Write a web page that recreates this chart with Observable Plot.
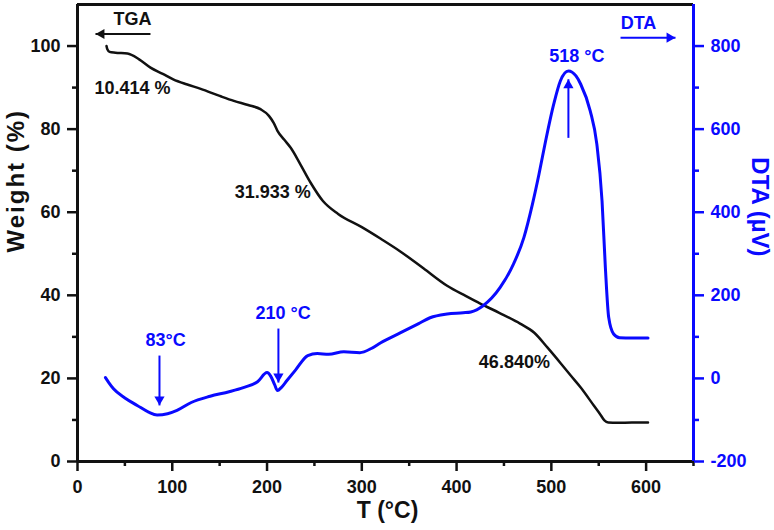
<!DOCTYPE html>
<html><head><meta charset="utf-8">
<script src="https://cdn.jsdelivr.net/npm/d3@7"></script>
<script src="https://cdn.jsdelivr.net/npm/@observablehq/plot@0.6"></script>
<style>body{margin:0;background:#fff} #chart svg{display:block}</style>
</head><body><div id="chart"></div>
<script>
// TGA curve (T °C, weight %)
const tgaT = [30.6, 31.5, 33.8, 40, 52.7, 65, 77, 90, 101, 115, 130, 150, 165, 180, 193, 202, 207, 211, 218, 225, 235, 246, 259, 275, 300, 320, 341, 365, 390, 410, 425, 445, 467, 482, 496, 510, 520, 531, 545, 552, 556, 560, 570, 585, 602];
const tgaW = [100, 99.2, 98.6, 98.4, 98.2, 96.8, 94.8, 93.3, 92, 90.8, 89.7, 88, 86.8, 85.8, 84.8, 83.2, 81.5, 79.6, 77.5, 75.5, 71.6, 67.1, 62.7, 59.6, 56.4, 53.6, 50.5, 46.5, 42.3, 39.8, 38, 35.8, 33.2, 31, 27.4, 23.6, 20.8, 17.8, 13.4, 11.2, 9.9, 9.4, 9.3, 9.4, 9.4];
// DTA curve (T °C, µV)
const dtaT = [29.5, 33, 38, 50, 63, 75, 84, 95, 105, 120, 140, 160, 175, 190, 200, 204, 208, 211, 215, 221, 230, 243, 253, 265, 281, 298, 310, 320, 341, 360, 372, 390, 407, 415, 428, 446, 460, 471, 480, 487, 494, 502.5, 509.5, 518, 526, 531, 541, 548, 553.5, 557, 560.5, 565.7, 572, 585, 602];
const dtaV = [2, -10, -25, -47, -65, -81, -88, -85, -77, -58, -43, -32, -22, -8, 14, 5, -15, -29, -22, -5, 20, 55, 60, 58, 64, 62, 72, 86, 110, 132, 146, 155, 158, 160, 175, 219, 275, 339, 419, 492, 572, 660, 716, 740, 728, 708, 644, 564, 427, 267, 147, 107, 98, 97, 97];

// ticks
const xTicks = [0, 100, 200, 300, 400, 500, 600];
const xMinor = [50, 150, 250, 350, 450, 550, 650];
const yTicks = [0, 20, 40, 60, 80, 100];
const yMinor = [10, 30, 50, 70, 90];
const dtaTicks = [-200, 0, 200, 400, 600, 800];
const dtaMinor = [-100, 100, 300, 500, 700];

// annotations
const annText = ["TGA", "DTA", "10.414 %", "31.933 %", "46.840%", "83°C", "210 °C", "518 °C"];
const annX = [58, 592, 58, 206, 461, 93, 217, 527];
const annY = [106.5, 105.5, 89.9, 64.7, 23.8, 29.1, 35.6, 97.6];
const annBlue = [false, true, false, false, false, true, true, true];
// arrows: tail (x1,y1) -> tip (x2,y2), in T and weight units
const arrX1 = [77, 573, 86.5, 212, 518];
const arrY1 = [102.9, 102, 25.5, 32, 77.9];
const arrX2 = [19, 631, 86.5, 212, 518];
const arrY2 = [102.9, 102, 13.5, 19, 92];
const arrBlue = [false, true, true, true, true];

const blue = "#0a0aff";
const ink = "#111";
const toW = d => (d + 200) / 10; // DTA axis (-200..900) onto weight axis (0..110)

const tga = tgaT.map((t, i) => ({t, w: tgaW[i]}));
const dta = dtaT.map((t, i) => ({t, w: toW(dtaV[i])}));
const ann = annText.map((s, i) => ({s, x: annX[i], y: annY[i], c: annBlue[i] ? blue : ink}));
const arr = arrX1.map((x1, i) => {
  const dx = arrX2[i] - x1, dy = arrY2[i] - arrY1[i];
  const rot = dx < 0 ? -90 : dx > 0 ? 90 : dy < 0 ? 180 : 0;
  return {x1, y1: arrY1[i], x2: arrX2[i], y2: arrY2[i], c: arrBlue[i] ? blue : ink, rot,
    ox: dx < 0 ? 6 : dx > 0 ? -6 : 0, oy: dy < 0 ? -6 : dy > 0 ? 6 : 0};
});

const font = "'Liberation Sans', Arial, sans-serif";
const marks = [
  // minor ticks
  Plot.axisX({ticks: xMinor, tickSize: 5, tickFormat: () => "", stroke: ink, strokeWidth: 2.5, label: null}),
  Plot.axisY({anchor: "left", ticks: yMinor, tickSize: 5, tickFormat: () => "", stroke: ink, strokeWidth: 2.5, label: null}),
  Plot.axisY({anchor: "right", ticks: dtaMinor.map(toW), tickSize: 5, tickFormat: () => "", stroke: blue, strokeWidth: 2.5, label: null}),
  // major ticks
  Plot.axisX({ticks: xTicks, tickSize: 10, tickPadding: 9, stroke: ink, fill: ink, strokeWidth: 2.5, label: null, fontSize: 18}),
  Plot.axisY({anchor: "left", ticks: yTicks, tickSize: 10, tickPadding: 7, stroke: ink, fill: ink, strokeWidth: 2.5, label: null, fontSize: 18}),
  Plot.axisY({anchor: "right", ticks: dtaTicks.map(toW), tickFormat: w => String(Math.round(w * 10 - 200)), tickSize: 10, tickPadding: 7, stroke: blue, fill: blue, strokeWidth: 2.5, label: null, fontSize: 18}),
  // frame
  Plot.ruleY([110], {stroke: ink, strokeWidth: 3}),
  Plot.ruleY([0], {stroke: ink, strokeWidth: 3}),
  Plot.ruleX([0], {stroke: ink, strokeWidth: 3}),
  Plot.ruleX([650], {stroke: blue, strokeWidth: 3}),
  // curves
  Plot.line(tga, {x: "t", y: "w", curve: "monotone-x", stroke: ink, strokeWidth: 2.5}),
  Plot.line(dta, {x: "t", y: "w", curve: "monotone-x", stroke: blue, strokeWidth: 3}),
  // arrows
  Plot.link(arr, {x1: "x1", y1: "y1", x2: "x2", y2: "y2", stroke: "c", strokeWidth: 2}),
  ...arr.map(a => Plot.dot([a], {x: "x2", y: "y2", symbol: "triangle", r: 3.8, fill: a.c, stroke: "none", rotate: a.rot, dx: a.ox, dy: a.oy})),
  // annotation labels
  Plot.text(ann, {x: "x", y: "y", text: "s", fill: "c", fontSize: 18, fontWeight: "bold"}),
  // axis titles
  Plot.text(["T (°C)"], {frameAnchor: "bottom", dx: 2, dy: 56, fontSize: 23, fontWeight: "bold", fill: ink}),
  Plot.text(["Weight (%)"], {frameAnchor: "left", rotate: -90, dx: -61, dy: 19.5, fontSize: 24, fontWeight: "bold", fill: ink}),
  Plot.text(["DTA (µV)"], {frameAnchor: "right", rotate: 90, dx: 66, dy: 23.5, fontSize: 24, fontWeight: "bold", fill: blue})
];

const chart = Plot.plot({
  width: 774, height: 530,
  marginLeft: 77, marginRight: 81, marginTop: 4, marginBottom: 69,
  x: {domain: [0, 650]},
  y: {domain: [0, 110]},
  style: {fontFamily: font, fontWeight: "bold", fontSize: "18px", background: "#fff", overflow: "visible"},
  marks
});
document.getElementById("chart").append(chart);
d3.select(chart).selectAll("text").filter(function() { return this.textContent === "Weight (%)"; }).style("letter-spacing", "2px");
</script>
</body></html>
